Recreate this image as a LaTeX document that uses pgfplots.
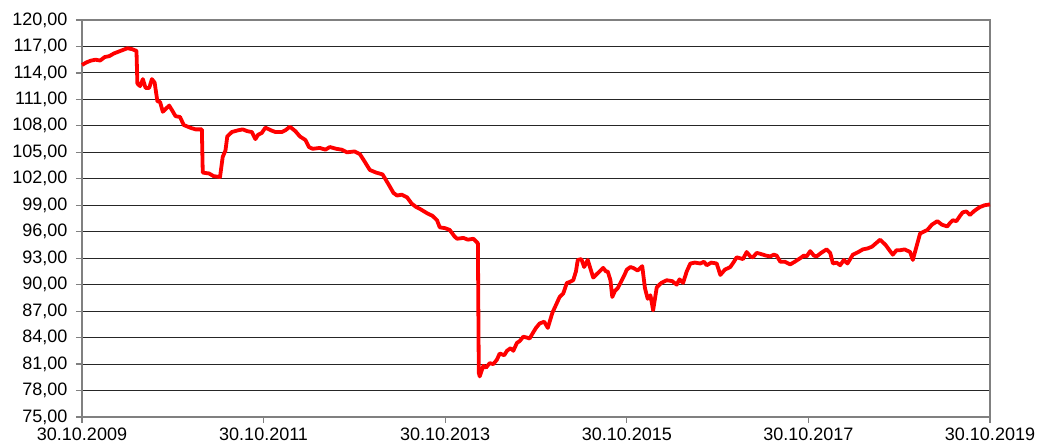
\documentclass[border=0pt]{standalone}
\usepackage{pgfplots}
\pgfplotsset{compat=1.18}
\usepackage{fontspec}
\setmainfont{Liberation Sans}
\begin{document}
\begin{tikzpicture}
\begin{axis}[
  scale only axis,
  width=908pt, height=397pt,
  at={(0pt,0pt)}, anchor=south west,
  xmin=0, xmax=10, ymin=75, ymax=120,
  xtick={0,2,4,6,8,10},
  xticklabels={30.10.2009,30.10.2011,30.10.2013,30.10.2015,30.10.2017,30.10.2019},
  ytick={75,78,...,120},
  ymajorgrids,
  grid style={black!85, line width=1pt},
  axis line style={gray, line width=1.6pt},
  tick style={gray, line width=1.2pt},
  tick align=outside, tick pos=left,
  major tick length=6pt,
  font=\fontsize{18pt}{21pt}\selectfont,
  /pgf/number format/assume math mode=true,
  yticklabel={\pgfmathprintnumber[fixed,fixed zerofill,precision=2,use comma]{\tick}},
  yticklabel style={anchor=east, xshift=-5pt},
  xticklabel style={anchor=north, yshift=-1pt},
  clip=false,
]
\addplot[red, line width=3.8pt, line join=round] coordinates {
(0.00,114.9)(0.05,115.2)(0.10,115.4)(0.15,115.5)(0.20,115.4)(0.25,115.8)(0.30,115.9)(0.35,116.2)(0.40,116.4)(0.45,116.6)(0.50,116.8)(0.55,116.7)(0.60,116.5)
(0.61,112.8)(0.64,112.5)(0.67,113.3)(0.70,112.3)(0.74,112.3)(0.77,113.3)(0.80,112.9)(0.83,110.8)(0.86,110.7)(0.89,109.6)(0.93,110.0)(0.96,110.3)(0.99,109.8)
(1.03,109.1)(1.08,109.0)(1.12,108.1)(1.19,107.8)(1.25,107.6)(1.32,107.6)(1.33,102.7)(1.40,102.6)(1.45,102.3)(1.52,102.2)(1.55,104.5)(1.58,105.2)(1.60,106.8)
(1.65,107.3)(1.72,107.5)(1.77,107.6)(1.82,107.4)(1.87,107.3)(1.91,106.5)(1.94,107.0)(1.98,107.2)(2.02,107.8)(2.08,107.5)(2.13,107.3)(2.20,107.3)(2.24,107.5)
(2.29,107.9)(2.35,107.4)(2.40,106.8)(2.46,106.4)(2.50,105.6)(2.54,105.4)(2.62,105.5)(2.68,105.3)(2.73,105.6)(2.80,105.4)(2.86,105.3)(2.92,105.0)(3.00,105.1)
(3.06,104.8)(3.11,104.0)(3.17,103.0)(3.24,102.7)(3.31,102.5)(3.38,101.3)(3.43,100.4)(3.47,100.1)(3.52,100.2)(3.58,99.9)(3.63,99.2)(3.68,98.8)(3.72,98.6)
(3.80,98.1)(3.86,97.8)(3.91,97.3)(3.94,96.5)(4.00,96.4)(4.05,96.2)(4.10,95.5)(4.13,95.2)(4.20,95.3)(4.25,95.1)(4.31,95.2)(4.36,94.7)(4.37,80.0)(4.38,79.6)
(4.42,80.8)(4.45,80.6)(4.49,81.1)(4.53,81.0)(4.57,81.5)(4.60,82.2)(4.65,82.0)(4.68,82.5)(4.72,82.8)(4.75,82.5)(4.79,83.4)(4.82,83.6)(4.86,84.1)(4.90,84.0)
(4.93,83.9)(4.97,84.6)(5.00,85.1)(5.04,85.6)(5.09,85.8)(5.13,85.1)(5.18,86.8)(5.22,87.7)(5.26,88.6)(5.30,89.0)(5.34,90.2)(5.37,90.3)(5.41,90.5)(5.44,91.5)
(5.46,92.8)(5.50,92.9)(5.53,92.0)(5.57,92.8)(5.60,91.8)(5.63,90.8)(5.68,91.3)(5.74,91.9)(5.77,91.5)(5.79,91.5)(5.82,90.5)(5.84,88.6)(5.87,89.3)(5.90,89.6)
(5.93,90.2)(5.97,91.0)(6.00,91.7)(6.04,92.0)(6.07,91.9)(6.12,91.6)(6.17,92.1)(6.20,89.6)(6.23,88.4)(6.26,88.8)(6.29,87.1)(6.33,89.7)(6.38,90.2)(6.44,90.5)
(6.50,90.4)(6.55,90.0)(6.58,90.6)(6.62,90.2)(6.66,91.5)(6.70,92.4)(6.75,92.5)(6.81,92.4)(6.85,92.6)(6.88,92.2)(6.93,92.5)(6.99,92.4)(7.03,91.1)(7.08,91.7)
(7.14,92.0)(7.18,92.6)(7.21,93.1)(7.28,92.9)(7.32,93.7)(7.36,93.2)(7.39,93.1)(7.43,93.6)(7.47,93.5)(7.53,93.3)(7.58,93.2)(7.62,93.4)(7.65,93.3)(7.69,92.6)
(7.74,92.6)(7.80,92.3)(7.85,92.6)(7.91,93.0)(7.95,93.3)(7.98,93.2)(8.02,93.8)(8.06,93.3)(8.09,93.2)(8.14,93.6)(8.20,94.0)(8.24,93.6)(8.27,92.4)(8.31,92.5)
(8.35,92.2)(8.39,92.8)(8.43,92.4)(8.49,93.4)(8.55,93.7)(8.60,94.0)(8.65,94.1)(8.70,94.3)(8.79,95.1)(8.85,94.5)(8.90,93.8)(8.93,93.4)(8.97,93.9)(9.01,93.9)
(9.06,94.0)(9.12,93.7)(9.15,92.8)(9.19,94.3)(9.23,95.8)(9.27,96.0)(9.31,96.2)(9.36,96.8)(9.42,97.2)(9.47,96.8)(9.53,96.6)(9.56,97.0)(9.59,97.3)(9.63,97.2)
(9.67,97.8)(9.70,98.2)(9.74,98.3)(9.78,97.9)(9.82,98.3)(9.86,98.6)(9.89,98.8)(9.94,99.0)(10.0,99.1)
};
\end{axis}
\pgfresetboundingbox
\path (-82pt,-29pt) rectangle (955pt,417pt);
\end{tikzpicture}
\end{document}
